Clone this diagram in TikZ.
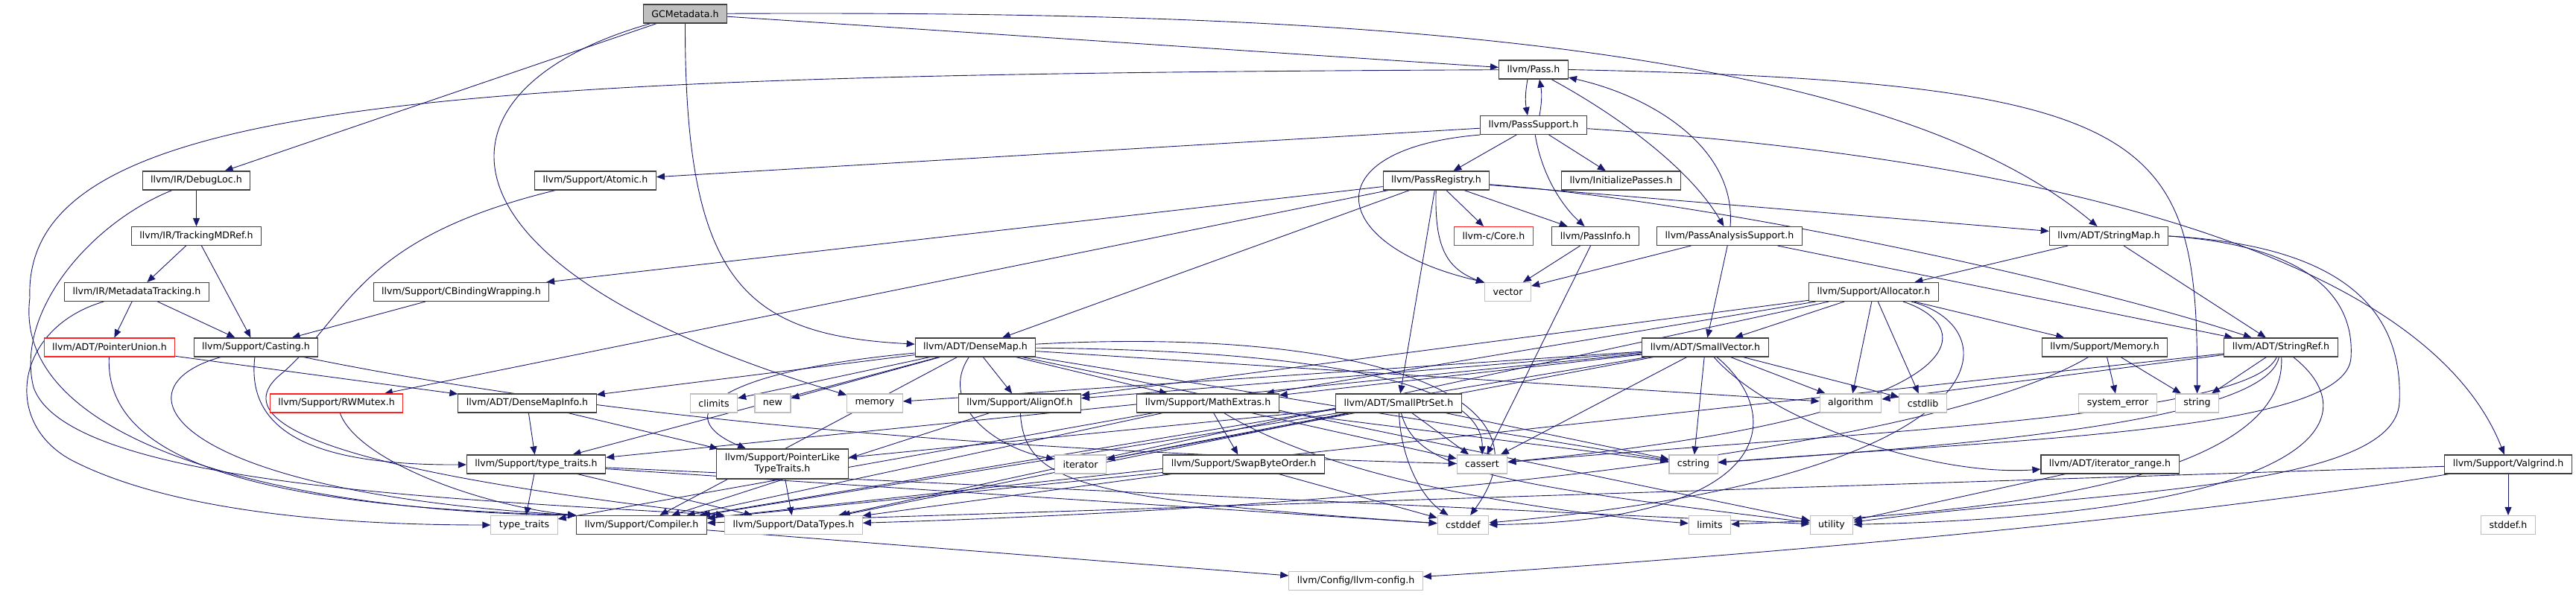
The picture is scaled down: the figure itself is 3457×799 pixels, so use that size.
\documentclass[tikz,border=0pt]{standalone}
\usepackage{fontspec}
\setmainfont{DejaVu Sans}
\usetikzlibrary{arrows.meta}
\definecolor{edgeblue}{HTML}{191970}
\definecolor{boxdark}{HTML}{404040}
\definecolor{boxlight}{HTML}{BFBFBF}
\definecolor{boxred}{HTML}{FF2020}
\pgfdeclarelayer{edges}
\pgfsetlayers{edges,main}
\begin{document}
\begin{tikzpicture}[
    x=1pt, y=-1pt,
    box/.style={draw=boxdark,fill=white,line width=1.1pt,inner xsep=11pt,inner ysep=0pt,minimum height=25pt,align=center,font=\fontsize{12.6}{15}\selectfont},
    sys/.style={box,draw=boxlight},
    trunc/.style={box,draw=boxred},
    dep/.style={->,draw=edgeblue,line width=0.9pt},
    >={Triangle[length=11pt,width=9pt]}
]
\useasboundingbox (0,0) rectangle (3457,799);

\node[box,fill=boxlight] (gcmeta) at (919.5,18.5) {GCMetadata.h};
\node[box] (pass) at (2058,93.5) {llvm/Pass.h};
\node[box] (passsupport) at (2058,168) {llvm/PassSupport.h};
\node[box] (debugloc) at (263.5,242.5) {llvm/IR/DebugLoc.h};
\node[box] (atomic) at (799,242.5) {llvm/Support/Atomic.h};
\node[box] (passregistry) at (1927.5,242.5) {llvm/PassRegistry.h};
\node[box] (initpasses) at (2175.5,242.5) {llvm/InitializePasses.h};
\node[box] (trackingmdref) at (263.5,317) {llvm/IR/TrackingMDRef.h};
\node[trunc] (core) at (2004.5,317) {llvm-c/Core.h};
\node[box] (passinfo) at (2141,317) {llvm/PassInfo.h};
\node[box] (analysissupport) at (2321,317) {llvm/PassAnalysisSupport.h};
\node[box] (stringmap) at (2830,317) {llvm/ADT/StringMap.h};
\node[box] (metatracking) at (183.5,392) {llvm/IR/MetadataTracking.h};
\node[box] (cbinding) at (619,392) {llvm/Support/CBindingWrapping.h};
\node[sys] (vector) at (2023.5,392) {vector};
\node[box] (allocator) at (2514.5,392) {llvm/Support/Allocator.h};
\node[trunc] (pointerunion) at (147,466.5) {llvm/ADT/PointerUnion.h};
\node[box] (casting) at (343.5,466.5) {llvm/Support/Casting.h};
\node[box] (densemap) at (1309,466.5) {llvm/ADT/DenseMap.h};
\node[box] (smallvector) at (2288.5,466.5) {llvm/ADT/SmallVector.h};
\node[box] (memoryh) at (2824.5,466.5) {llvm/Support/Memory.h};
\node[box] (stringref) at (3061,466.5) {llvm/ADT/StringRef.h};
\node[trunc] (rwmutex) at (451.5,541.5) {llvm/Support/RWMutex.h};
\node[box] (densemapinfo) at (707.5,541.5) {llvm/ADT/DenseMapInfo.h};
\node[sys] (climits) at (958,541.5) {climits};
\node[sys] (new) at (1037,541.5) {new};
\node[sys] (memory) at (1174,541.5) {memory};
\node[box] (alignof) at (1368.5,541.5) {llvm/Support/AlignOf.h};
\node[box] (mathextras) at (1621,541.5) {llvm/Support/MathExtras.h};
\node[box] (smallptrset) at (1877,541.5) {llvm/ADT/SmallPtrSet.h};
\node[sys] (algorithm) at (2483.5,541.5) {algorithm};
\node[sys] (cstdlib) at (2580.5,541.5) {cstdlib};
\node[sys] (syserror) at (2842,541.5) {system\_error};
\node[sys] (string) at (2948.5,541.5) {string};
\node[box] (typetraitsh) at (719.5,623.5) {llvm/Support/type\_traits.h};
\node[box,minimum height=40pt] (pointerlike) at (1050,623) {llvm/Support/PointerLike\\TypeTraits.h};
\node[sys] (iterator) at (1450,623.5) {iterator};
\node[box] (swapbyte) at (1669,623.5) {llvm/Support/SwapByteOrder.h};
\node[sys] (cassert) at (1989,623.5) {cassert};
\node[sys] (cstring) at (2272.5,623.5) {cstring};
\node[box] (iterrange) at (2831.5,623.5) {llvm/ADT/iterator\_range.h};
\node[box] (valgrind) at (3366,623.5) {llvm/Support/Valgrind.h};
\node[sys] (typetraits) at (703.5,705) {type\_traits};
\node[box] (compiler) at (861,705) {llvm/Support/Compiler.h};
\node[sys] (datatypes) at (1065,705) {llvm/Support/DataTypes.h};
\node[sys] (cstddef) at (1963.5,705) {cstddef};
\node[sys] (limits) at (2294.5,705) {limits};
\node[sys] (utility) at (2458,705) {utility};
\node[sys] (stddefh) at (3366,705) {stddef.h};
\node[sys] (llvmconfig) at (1819.5,780) {llvm/Config/llvm-config.h};

\begin{pgfonlayer}{edges}
\draw[dep] (gcmeta) -- (debugloc);
\draw[dep] (gcmeta) .. controls (560,120) and (560,360) .. (memory);
\draw[dep] (gcmeta) .. controls (919,380) and (1000,450) .. (densemap);
\draw[dep] (gcmeta) -- (pass);
\draw[dep] (gcmeta) .. controls (1700,15) and (2500,40) .. (stringmap);

\draw[dep] ([xshift=-8pt]pass.south) to[bend right=10] ([xshift=-8pt]passsupport.north);
\draw[dep] (pass) .. controls (2180,160) and (2270,230) .. (analysissupport);
\draw[dep] (pass.east) .. controls (2900,110) and (2950,180) .. (string);
\draw[dep] (pass) .. controls (600,100) and (30,130) .. (40,400) .. controls (15,600) and (400,688) .. (compiler.north west);

\draw[dep] ([xshift=8pt]passsupport.north) to[bend right=10] ([xshift=8pt]pass.south);
\draw[dep] (passsupport) -- (initpasses);
\draw[dep] (passsupport) -- (passregistry);
\draw[dep] (passsupport) .. controls (2070,240) and (2100,280) .. (passinfo);
\draw[dep] (passsupport) -- (atomic);
\draw[dep] (passsupport.south west) .. controls (1760,200) and (1780,330) .. (vector.north west);
\draw[dep] (passsupport) .. controls (2700,210) and (3250,330) .. (valgrind);

\draw[dep] (passregistry) -- (core);
\draw[dep] (passregistry) -- (passinfo);
\draw[dep] (passregistry) .. controls (1925,330) and (1940,360) .. (vector);
\draw[dep] (passregistry) -- (smallptrset);
\draw[dep] (passregistry) -- (densemap);
\draw[dep] (passregistry) -- (rwmutex);
\draw[dep] (passregistry) -- (cbinding);
\draw[dep] (passregistry) -- (stringmap);
\draw[dep] (passregistry) .. controls (2300,270) and (2800,380) .. (stringref);

\draw[dep] (passinfo) -- (vector);
\draw[dep] (passinfo) -- (cassert);

\draw[dep] (analysissupport) .. controls (2330,200) and (2220,130) .. (pass);
\draw[dep] (analysissupport) -- (vector);
\draw[dep] (analysissupport) -- (smallvector);
\draw[dep] (analysissupport) -- (stringref);

\draw[dep] (stringmap) -- (allocator);
\draw[dep] (stringmap) -- (stringref);
\draw[dep] (stringmap.east) .. controls (3100,330) and (3160,400) .. (3155,480) .. controls (3150,580) and (2700,590) .. (cstring);
\draw[dep] (stringmap.east) .. controls (3150,330) and (3225,420) .. (3220,540) .. controls (3215,660) and (2800,660) .. (utility);

\draw[dep] (debugloc) -- (trackingmdref);
\draw[dep] (debugloc) .. controls (120,300) and (20,420) .. (45,520) .. controls (90,650) and (600,670) .. (datatypes.north west);
\draw[dep] (trackingmdref) -- (metatracking);
\draw[dep] (trackingmdref) -- (casting);
\draw[dep] (metatracking) -- (pointerunion);
\draw[dep] (metatracking) -- (casting);
\draw[dep] (metatracking) .. controls (20,440) and (0,570) .. (100,620) .. controls (250,695) and (500,705) .. (typetraits);
\draw[dep] (atomic) .. controls (480,320) and (470,420) .. (380,500) .. controls (250,600) and (700,660) .. (datatypes.north west);
\draw[dep] (cbinding) -- (casting);
\draw[dep] (pointerunion) -- (densemapinfo);
\draw[dep] (pointerunion) .. controls (140,620) and (350,680) .. (compiler.north west);
\draw[dep] (casting) .. controls (150,520) and (220,660) .. (compiler.north west);
\draw[dep] (casting) .. controls (330,580) and (420,625) .. (typetraitsh);
\draw[dep] (casting) .. controls (900,580) and (1500,610) .. (cassert);
\draw[dep] (rwmutex) .. controls (480,620) and (650,680) .. (compiler.north west);

\draw[dep] (densemap) -- (densemapinfo);
\draw[dep] (densemap) -- (typetraitsh);
\draw[dep] (densemap) .. controls (950,500) and (900,560) .. (pointerlike);
\draw[dep] (densemap) -- (compiler);
\draw[dep] (densemap) -- (alignof);
\draw[dep] (densemap) -- (mathextras);
\draw[dep] (densemap) .. controls (1260,540) and (1330,600) .. (iterator);
\draw[dep] (densemap) -- (climits);
\draw[dep] (densemap) -- (new);
\draw[dep] (densemap) -- (algorithm);
\draw[dep] (densemap) .. controls (1700,470) and (1990,500) .. (cassert);
\draw[dep] (densemap) .. controls (1800,440) and (2100,520) .. (cstddef);
\draw[dep] (densemap) -- (cstring);
\draw[dep] (densemap) -- (utility);

\draw[dep] (densemapinfo) -- (typetraitsh);
\draw[dep] (densemapinfo) -- (pointerlike);
\draw[dep] (pointerlike) -- (datatypes);
\draw[dep] (typetraitsh) -- (typetraits);
\draw[dep] (typetraitsh) -- (datatypes);
\draw[dep] (typetraitsh) -- (cstddef);
\draw[dep] (typetraitsh) -- (utility);

\draw[dep] (alignof) -- (compiler);
\draw[dep] (alignof) .. controls (1375,650) and (1450,670) .. (cstddef);

\draw[dep] (mathextras) -- (swapbyte);
\draw[dep] (mathextras) -- (compiler);
\draw[dep] (mathextras) -- (cassert);
\draw[dep] (mathextras) -- (cstring);
\draw[dep] (mathextras) -- (typetraits);
\draw[dep] (mathextras) .. controls (1800,650) and (2100,690) .. (limits);

\draw[dep] (swapbyte) -- (compiler);
\draw[dep] (swapbyte) -- (datatypes);
\draw[dep] (swapbyte) -- (cstddef);

\draw[dep] (smallptrset) -- (cassert);
\draw[dep] (smallptrset) .. controls (1880,620) and (1910,670) .. (cstddef);
\draw[dep] (smallptrset) -- (cstring);
\draw[dep] (smallptrset) -- (iterator);
\draw[dep] (smallptrset) -- (compiler);
\draw[dep] (smallptrset) -- (datatypes);
\draw[dep] (smallptrset) -- (pointerlike);
\draw[dep] (smallptrset) .. controls (1900,630) and (2000,650) .. (utility);

\draw[dep] (smallvector) -- (alignof);
\draw[dep] (smallvector) -- (mathextras);
\draw[dep] (smallvector) -- (typetraitsh);
\draw[dep] (smallvector) -- (compiler);
\draw[dep] (smallvector) .. controls (2380,570) and (2600,640) .. (iterrange);
\draw[dep] (smallvector) -- (algorithm);
\draw[dep] (smallvector) -- (cstdlib);
\draw[dep] (smallvector) -- (cstring);
\draw[dep] (smallvector) -- (cassert);
\draw[dep] (smallvector) .. controls (2400,560) and (2380,700) .. (cstddef);
\draw[dep] (smallvector) -- (iterator);
\draw[dep] (smallvector) -- (memory);

\draw[dep] (allocator) -- (smallvector);
\draw[dep] (allocator) -- (alignof);
\draw[dep] (allocator) -- (mathextras);
\draw[dep] (allocator) -- (datatypes);
\draw[dep] (allocator) -- (memoryh);
\draw[dep] (allocator) -- (algorithm);
\draw[dep] (allocator) -- (cstdlib);
\draw[dep] (allocator) .. controls (2660,440) and (2660,560) .. (cassert);
\draw[dep] (allocator) .. controls (2700,440) and (2700,640) .. (cstddef);

\draw[dep] (memoryh) -- (syserror);
\draw[dep] (memoryh) -- (string);
\draw[dep] (memoryh) .. controls (2600,600) and (1900,680) .. (datatypes);

\draw[dep] (stringref) -- (string);
\draw[dep] (stringref) -- (algorithm);
\draw[dep] (stringref) -- (compiler);
\draw[dep] (stringref) .. controls (3020,560) and (2500,580) .. (cassert);
\draw[dep] (stringref) .. controls (3040,570) and (2600,600) .. (cstring);
\draw[dep] (stringref) .. controls (3070,640) and (2700,690) .. (limits);
\draw[dep] (stringref) .. controls (3180,560) and (3120,690) .. (utility);

\draw[dep] (iterrange) -- (utility);

\draw[dep] (valgrind) -- (stddefh);
\draw[dep] (valgrind) -- (compiler);
\draw[dep] (valgrind) .. controls (2900,700) and (2300,750) .. (llvmconfig);

\draw[dep] (compiler) -- (llvmconfig);
\end{pgfonlayer}
\end{tikzpicture}
\end{document}
